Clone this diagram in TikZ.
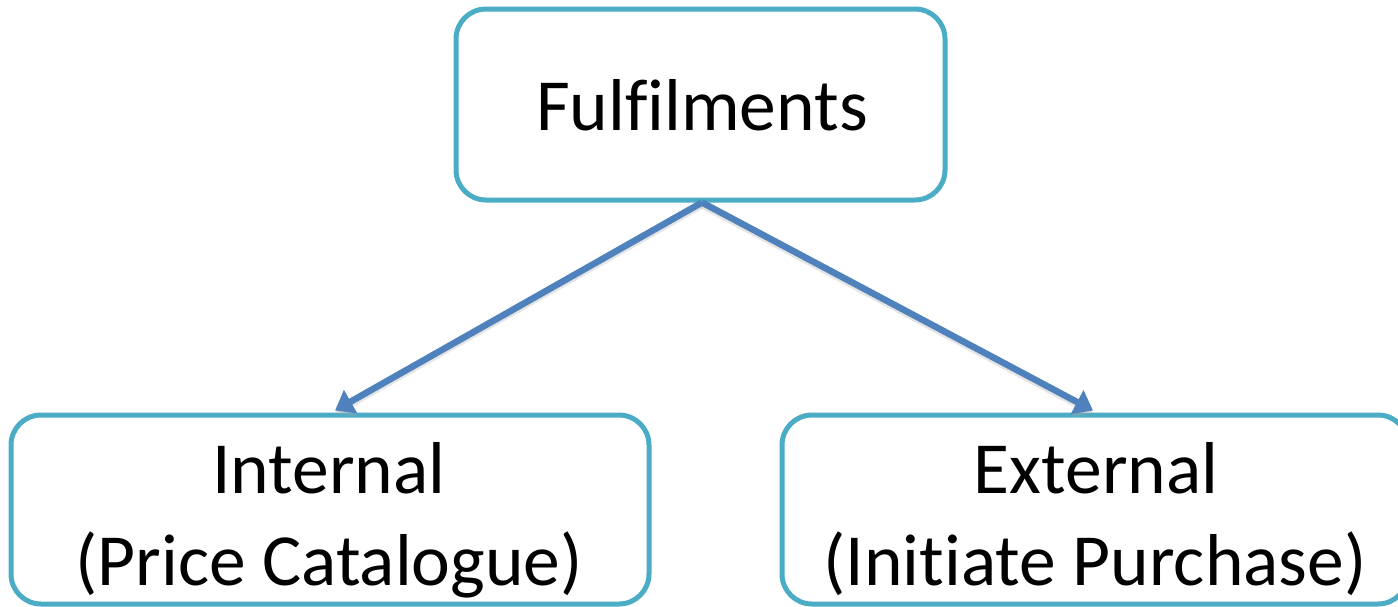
\documentclass[tikz,border=0pt]{standalone}
\usepackage{fontspec}
\setmainfont{Carlito}[Ligatures=NoCommon]
\usetikzlibrary{arrows.meta,calc}
\definecolor{boxc}{RGB}{75,172,198}
\definecolor{arrc}{RGB}{79,129,189}
\tikzset{
  box/.style={draw=boxc, line width=5pt, rounded corners=30pt, fill=white, inner sep=0pt},
  lbl/.style={font=\fontsize{73.5}{92}\selectfont, inner sep=0pt, text=black},
  conn/.style={draw=arrc, line width=6.5pt, -{Triangle[length=18pt,width=26pt]}},
  shade/.style={draw=black!35, opacity=0.3, line width=6pt, -{Triangle[length=18pt,width=26pt]}}
}
\begin{document}
\begin{tikzpicture}[x=1pt,y=-1pt]
\useasboundingbox (0,0) rectangle (1398,606);
\clip (0,0) rectangle (1398,606);
\node[box, minimum width=489pt, minimum height=191pt] (top) at (700.5,104.5) {};
\node[box, minimum width=638pt, minimum height=189pt] (int) at (330,509.5) {};
\node[box, minimum width=626pt, minimum height=189pt] (ext) at (1095,509.5) {};
\node[lbl, anchor=base] (topT) at (702,130) {Fulfilments};
\node[lbl, anchor=base] (intT1) at (329,493) {Internal};
\node[lbl, anchor=base] (intT2) at (329,585) {(Price Catalogue)};
\node[lbl, anchor=base] (extT1) at (1096,493) {External};
\node[lbl, anchor=base] (extT2) at (1095,585) {(Initiate Purchase)};
\coordinate (apex) at ($(top.south)+(1.5,0)$);
\coordinate (tipL) at ($(int.north)+(5,-2)$);
\coordinate (tipR) at ($(ext.north)+(-2,-2)$);
\draw[shade] ($(apex)+(0,3)$) -- ($(tipL)+(0,3)$);
\draw[shade] ($(apex)+(0,3)$) -- ($(tipR)+(0,3)$);
\draw[conn] (apex) -- (tipL);
\draw[conn] (apex) -- (tipR);
\end{tikzpicture}
\end{document}
